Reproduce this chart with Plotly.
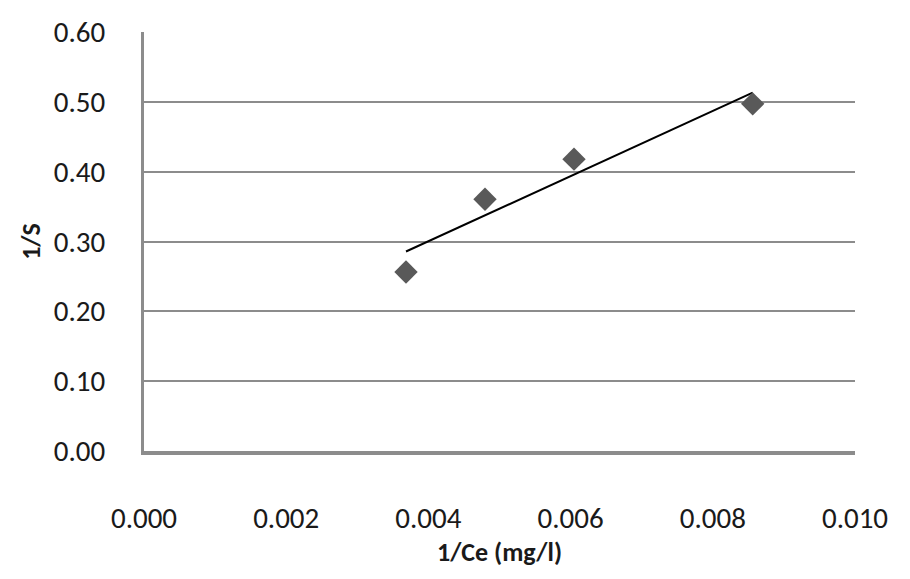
import numpy as np
import plotly.graph_objects as go

inv_ce = [0.003685, 0.004796, 0.006048, 0.008561]
inv_s = [0.2564, 0.3606, 0.4179, 0.4971]

y_ticks = [0.0, 0.1, 0.2, 0.3, 0.4, 0.5, 0.6]
x_ticks = [0.000, 0.002, 0.004, 0.006, 0.008, 0.010]

slope, intercept = np.polyfit(inv_ce, inv_s, 1)
trend_x = [min(inv_ce), max(inv_ce)]
trend_y = [slope * v + intercept for v in trend_x]

FONT = "Carlito, Lato, sans-serif"

fig = go.Figure()
fig.add_trace(go.Scatter(x=trend_x, y=trend_y, mode="lines",
                         line=dict(color="#000000", width=2), showlegend=False))
fig.add_trace(go.Scatter(x=inv_ce, y=inv_s, mode="markers",
                         marker=dict(symbol="diamond", size=18, color="#595959",
                                     line=dict(width=0)), showlegend=False))

fig.update_layout(
    width=910, height=579,
    margin=dict(l=144, r=55, t=32, b=128),
    paper_bgcolor="white", plot_bgcolor="white",
    font=dict(family=FONT, size=29, color="#1a1a1a"),
    xaxis=dict(range=[0, 0.01], tickvals=x_ticks, tickformat=".3f",
               showgrid=False, zeroline=False, showline=True,
               linecolor="#8c8c8c", linewidth=4, ticks="",
               ticklabelstandoff=38,
               title=dict(text="<b>1/Ce (mg/l)</b>", font=dict(size=26), standoff=8)),
    yaxis=dict(range=[0, 0.6], tickvals=y_ticks, tickformat=".2f",
               showgrid=True, gridcolor="#8c8c8c", gridwidth=2,
               zeroline=False, showline=True, linecolor="#8c8c8c", linewidth=3,
               ticks="", ticklabelstandoff=30,
               title=dict(text="<b>1/S</b>", font=dict(size=26), standoff=6)),
)

fig.write_html("out.html")
